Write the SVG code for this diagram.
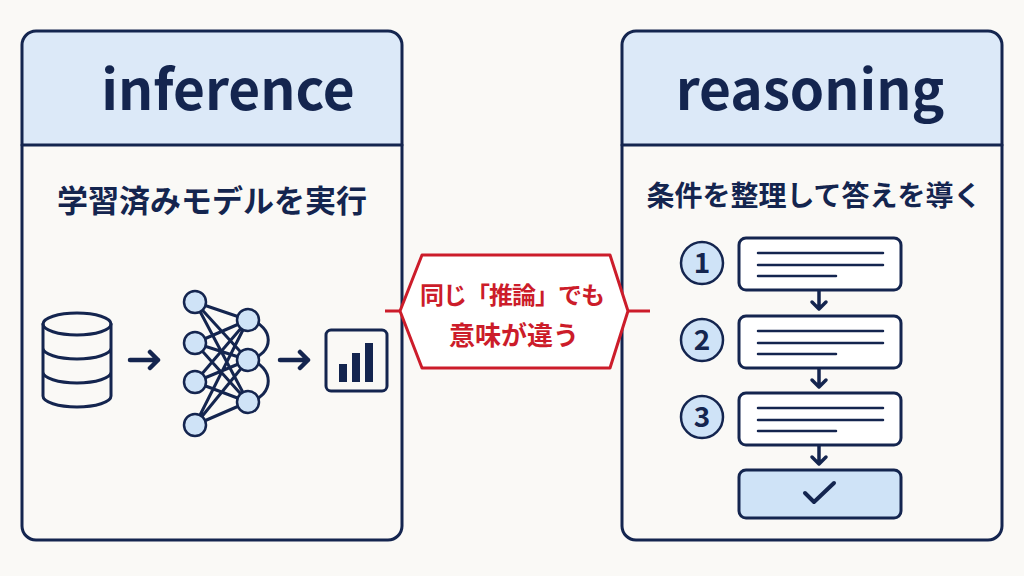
<svg xmlns="http://www.w3.org/2000/svg" width="1024" height="576" viewBox="0 0 1024 576">
<style>
.p{fill:#fff;stroke:#14254f;stroke-width:3}
.h{fill:#dce9f8}
.s{stroke:#14254f;stroke-width:3;fill:none;stroke-linecap:round;stroke-linejoin:round}
.n{fill:#cfe3f7;stroke:#14254f;stroke-width:2.5}
.t{font-family:"Noto Sans CJK JP","Noto Sans",sans-serif;font-weight:700;fill:#14254f}
.r{font-family:"Noto Sans CJK JP",sans-serif;font-weight:700;fill:#cc1c2a}
</style>
<rect width="1024" height="576" fill="#faf9f6"/>
<g id="inference">
<path d="M36,31 H388 Q402,31 402,45 V145 H22 V45 Q22,31 36,31Z" class="h"/>
<rect x="22" y="31" width="380" height="509" rx="14" fill="none" stroke="#14254f" stroke-width="3"/>
<line x1="22" y1="145" x2="402" y2="145" class="s"/>
<text x="228" y="110" text-anchor="middle" class="t" font-size="55">inference</text>
<text x="212" y="212" text-anchor="middle" class="t" font-size="31">学習済みモデルを実行</text>
<g class="s">
<ellipse cx="77" cy="324" rx="34" ry="11"/>
<path d="M43,324 V396 A34,11 0 0 0 111,396 V324 M43,348 A34,11 0 0 0 111,348 M43,372 A34,11 0 0 0 111,372"/>
<rect x="326" y="330" width="61" height="61" rx="5"/>
<path d="M195,302 L248,320 L195,343 L248,360 L195,382 L248,402 L195,425 M195,302 L248,360 M195,343 L248,402 M195,382 L248,320 M195,425 L248,360 M195,302 L248,402 M195,425 L248,320 M248,320 C275,325 275,355 248,360 M248,360 C275,365 275,397 248,402"/>
</g>
<path class="s" style="stroke-width:4.5" d="M130,360 H158 M150,352 L158,360 L150,368 M280,360 H308 M300,352 L308,360 L300,368"/>
<g fill="#14254f"><rect x="339" y="364" width="8" height="18"/><rect x="352" y="353" width="8" height="29"/><rect x="365" y="343" width="8" height="39"/></g>
<g class="n"><circle cx="195" cy="302" r="11"/><circle cx="195" cy="343" r="11"/><circle cx="195" cy="382" r="11"/><circle cx="195" cy="425" r="11"/><circle cx="248" cy="320" r="11"/><circle cx="248" cy="360" r="11"/><circle cx="248" cy="402" r="11"/></g>
</g>
<g id="reasoning">
<path d="M636,31 H988 Q1002,31 1002,45 V145 H622 V45 Q622,31 636,31Z" class="h"/>
<rect x="622" y="31" width="380" height="509" rx="14" fill="none" stroke="#14254f" stroke-width="3"/>
<line x1="622" y1="145" x2="1002" y2="145" class="s"/>
<text x="810" y="110" text-anchor="middle" class="t" font-size="55">reasoning</text>
<text x="814" y="206" text-anchor="middle" class="t" font-size="28">条件を整理して答えを導く</text>
<g class="n"><circle cx="702" cy="263" r="21"/><circle cx="702" cy="340" r="21"/><circle cx="702" cy="417" r="21"/></g>
<g class="t" font-size="28" text-anchor="middle"><text x="702" y="273">1</text><text x="702" y="350">2</text><text x="702" y="427">3</text></g>
<g class="p"><rect x="739" y="238" width="162" height="52" rx="7"/><rect x="739" y="316" width="162" height="52" rx="7"/><rect x="739" y="393" width="162" height="52" rx="7"/></g>
<rect x="739" y="470" width="162" height="48" rx="7" class="n" style="stroke-width:3"/>
<path class="s" style="stroke-width:2.5" d="M758,253 H883 M758,265 H883 M758,276 H836 M758,331 H883 M758,343 H883 M758,354 H836 M758,408 H883 M758,420 H883 M758,431 H836"/>
<path class="s" style="stroke-width:4" d="M805,493 L814,502 L834,483"/>
</g>
<g id="connectors" class="s" style="stroke-width:3.5">
<path d="M819,291 V308 M812,302 L819,309 L826,302 M819,369 V386 M812,380 L819,387 L826,380 M819,446 V463 M812,457 L819,464 L826,457"/>
</g>
<g id="note">
<path d="M400,311 L422,255 H610 L628,311 L610,368 H422 Z" fill="#fff" stroke="#cc1c2a" stroke-width="3" stroke-linejoin="round"/>
<path d="M385,311 H400 M628,311 H650" stroke="#cc1c2a" stroke-width="3"/>
<text x="512" y="304" text-anchor="middle" class="r" font-size="24" letter-spacing="-1">同じ「推論」でも</text>
<text x="514" y="345" text-anchor="middle" class="r" font-size="26">意味が違う</text>
</g>
</svg>
